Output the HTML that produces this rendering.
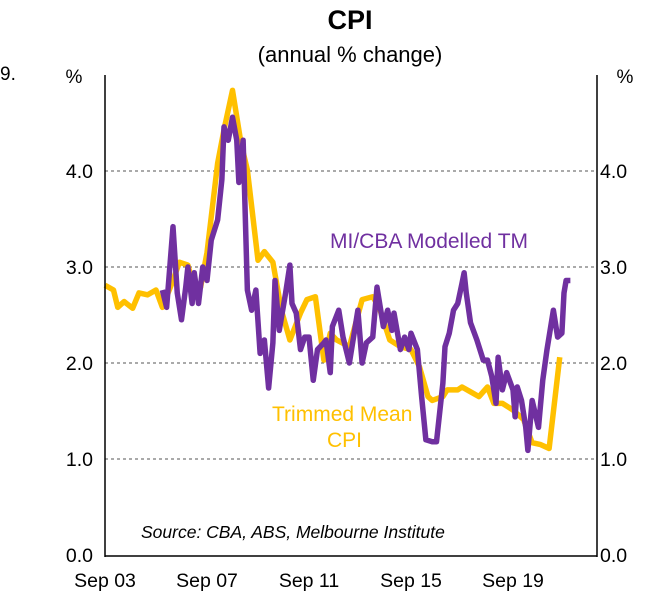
<!DOCTYPE html>
<html><head><meta charset="utf-8"><style>
body{margin:0;background:#fff;width:660px;height:603px;overflow:hidden;font-family:"Liberation Sans",Arial,sans-serif}
svg text{font-family:"Liberation Sans",Arial,sans-serif}
</style></head><body>
<svg id="chart" width="660" height="603" xmlns="http://www.w3.org/2000/svg">
<text x="350" y="29" font-size="27" font-weight="bold" text-anchor="middle">CPI</text>
<text x="350" y="62" font-size="22" text-anchor="middle">(annual % change)</text>
<text x="0" y="80" font-size="19">9.</text>
<text x="74" y="83" font-size="19" text-anchor="middle">%</text>
<text x="625" y="83" font-size="19" text-anchor="middle">%</text>
<g id="grid"></g><g id="series"></g>
<line x1="105" y1="75" x2="105" y2="557" stroke="#000" stroke-width="1.5"/>
<line x1="597" y1="75" x2="597" y2="557" stroke="#000" stroke-width="1.5"/>
<line x1="105" y1="556" x2="597" y2="556" stroke="#000" stroke-width="1.5"/>
<text x="330" y="248" font-size="21" fill="#7030A0">MI/CBA Modelled TM</text>
<text x="272" y="421" font-size="21" fill="#FFC000">Trimmed Mean</text>
<text x="327" y="447" font-size="21" fill="#FFC000">CPI</text>
<text x="141" y="538" font-size="17.5" font-style="italic">Source: CBA, ABS, Melbourne Institute</text>
</svg>
<script>
// months since Sep 2003
const tmMonths=[0,4,6,9,13,16,20,24,27,32,35,39,41,45,48,53,56,60,64,67,72,75,79,83,87,92,95,99,103,106,109,115,121,126,129,134,139,144,148,152,154,159,161,166,168,172,176,180,183,187,192,197,201,205,209,214];
const tmValues=[2.81,2.76,2.58,2.64,2.57,2.73,2.71,2.76,2.58,2.86,3.05,3.02,2.86,2.79,3.15,4.08,4.43,4.84,4.29,4.01,3.07,3.16,3.05,2.55,2.24,2.52,2.66,2.69,2.03,2.31,2.24,2.17,2.66,2.69,2.58,2.24,2.17,2.14,1.96,1.65,1.61,1.65,1.72,1.72,1.75,1.70,1.65,1.75,1.58,1.58,1.51,1.41,1.17,1.15,1.11,2.06];
const miMonths=[27,29,32,34,36,38,39,41,42,44,46,48,50,53,55,56,58,60,62,63,65,67,69,71,73,75,77,79,80,82,85,87,88,90,92,94,96,98,100,103,104,106,107,110,112,115,119,121,123,126,128,131,133,135,136,139,141,143,144,147,149,151,154,156,159,160,162,164,166,168,169,170,172,175,178,180,182,184,185,187,189,192,193,194,196,198,199,201,204,206,208,211,213,215,216,217,219];
const miValues=[2.76,2.58,3.42,2.73,2.45,2.79,3.0,2.62,2.94,2.62,3.0,2.86,3.28,3.49,3.91,4.46,4.32,4.56,4.32,3.88,4.32,2.76,2.55,2.76,2.1,2.24,1.74,2.21,2.86,2.34,2.73,3.02,2.62,2.52,2.14,2.27,2.27,1.82,2.14,2.21,2.24,1.9,2.38,2.55,2.27,2.0,2.55,2.0,2.21,2.27,2.79,2.38,2.55,2.34,2.52,2.14,2.27,2.14,2.31,2.14,1.65,1.2,1.18,1.18,1.79,2.17,2.31,2.55,2.62,2.83,2.94,2.73,2.42,2.24,2.03,2.03,1.86,1.58,2.06,1.72,1.9,1.72,1.44,1.75,1.61,1.33,1.09,1.61,1.33,1.82,2.14,2.55,2.27,2.31,2.73,2.86,2.86];
const yTicks=[0,1,2,3,4];
const yTickLabels=["0.0","1.0","2.0","3.0","4.0"];
const xTickMonths=[0,48,96,144,192];
const xTickLabels=["Sep 03","Sep 07","Sep 11","Sep 15","Sep 19"];
const NS="http://www.w3.org/2000/svg";
const xs=m=>105+m*2.125;
const ys=v=>555-v*96;
const svg=document.getElementById('chart'),grid=document.getElementById('grid'),ser=document.getElementById('series');
function mk(tag,attrs,parent){const e=document.createElementNS(NS,tag);for(const k in attrs)e.setAttribute(k,attrs[k]);parent.appendChild(e);return e;}
yTicks.forEach((v,i)=>{
  if(v>0){const g=mk('line',{x1:105,x2:597,y1:ys(v),y2:ys(v),stroke:'#555','stroke-width':1,'stroke-dasharray':'3,3'},grid);
  
  }
  const l=mk('text',{x:93,y:ys(v)+7,'font-size':19.5,'text-anchor':'end'},svg);l.textContent=yTickLabels[i];
  
  
  const r=mk('text',{x:600,y:ys(v)+7,'font-size':19.5},svg);r.textContent=yTickLabels[i];
  
  
});
xTickMonths.forEach((m,i)=>{
  const t=mk('text',{x:xs(m),y:587,'font-size':19.5,'text-anchor':'middle'},svg);t.textContent=xTickLabels[i];
  
  
});
function line(ms,vs,color){return mk('polyline',{points:ms.map((m,i)=>xs(m)+','+ys(vs[i])).join(' '),fill:'none',stroke:color,'stroke-width':5.5,'stroke-linejoin':'round'},ser);}
const tm=line(tmMonths,tmValues,'#FFC000');


const mi=line(miMonths,miValues,'#7030A0');


</script>
</body></html>
